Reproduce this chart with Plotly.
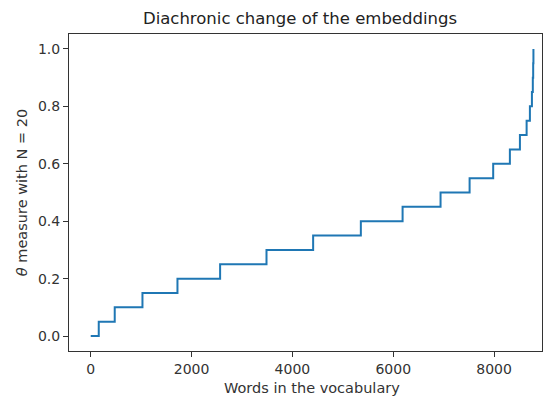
import plotly.graph_objects as go

# Step start positions (word index) and theta levels
step_x = [0, 159, 476, 1026, 1720, 2566, 3486, 4411, 5357, 6185, 6938, 7514,
          7982, 8313, 8512, 8645, 8710, 8750, 8768, 8775, 8780]
step_y = [0.0, 0.05, 0.10, 0.15, 0.20, 0.25, 0.30, 0.35, 0.40, 0.45, 0.50, 0.55,
          0.60, 0.65, 0.70, 0.75, 0.80, 0.85, 0.90, 0.95, 1.0]

x_ticks = [0, 2000, 4000, 6000, 8000]
y_ticks = [0.0, 0.2, 0.4, 0.6, 0.8, 1.0]

font = "DejaVu Sans"
L, R, T, B = 69, 542, 34, 351

fig = go.Figure()
fig.add_trace(go.Scatter(
    x=step_x, y=step_y, mode="lines", line_shape="hv",
    line=dict(color="#1f77b4", width=2), showlegend=False,
))

axis_common = dict(
    showgrid=False, zeroline=False, showline=True, mirror=True,
    linecolor="#333333", linewidth=1, ticks="outside", ticklen=5,
    tickcolor="#333333", tickwidth=1,
    tickfont=dict(family=font, size=14, color="#333333"),
)

fig.update_layout(
    width=546, height=398,
    margin=dict(l=L, r=546 - R, t=T, b=398 - B),
    paper_bgcolor="white", plot_bgcolor="white",
    title=dict(text="Diachronic change of the embeddings", x=300 / 546,
               xanchor="center", y=1 - 18 / 398, yanchor="middle",
               font=dict(family=font, size=16.5, color="#222222")),
    xaxis=dict(range=[-431, 8950], tickvals=x_ticks,
               ticktext=[str(v) for v in x_ticks], **axis_common),
    yaxis=dict(range=[-0.052, 1.052], tickvals=y_ticks,
               ticktext=[f"{v:.1f}" for v in y_ticks],
               title=dict(text="<i>θ</i> measure with N = 20", standoff=6,
                          font=dict(family=font, size=14.5, color="#333333")),
               **axis_common),
)
fig.add_annotation(
    text="Words in the vocabulary", xref="paper", yref="paper",
    x=(312 - L) / (R - L), y=-(388 - B) / (B - T), xanchor="center",
    yanchor="middle", showarrow=False,
    font=dict(family=font, size=14.5, color="#333333"),
)

fig.write_html("out.html")
